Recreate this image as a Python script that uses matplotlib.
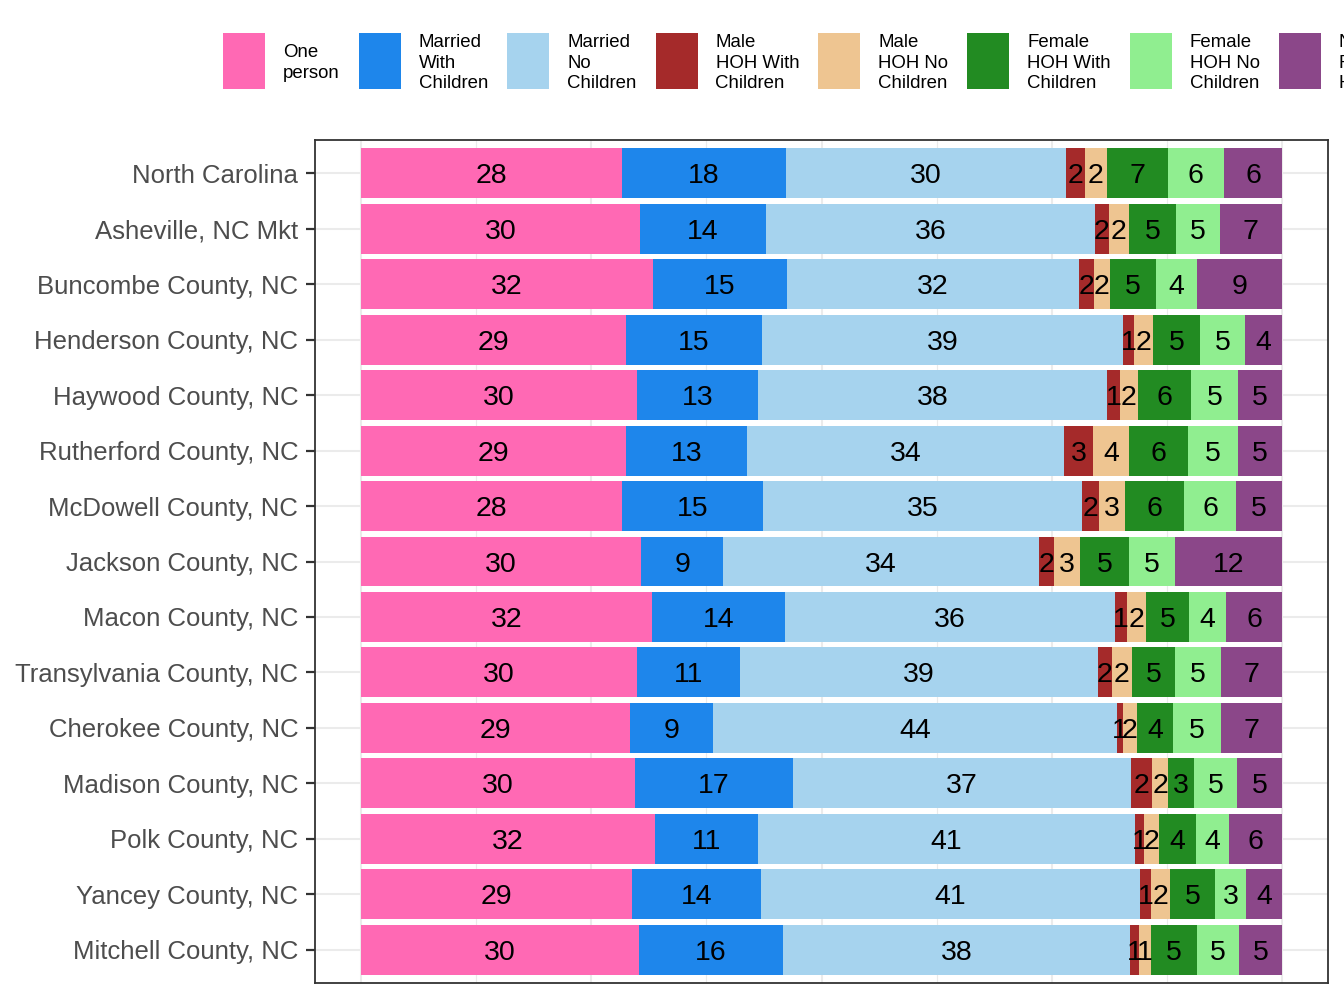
import matplotlib
matplotlib.use("Agg")
import matplotlib.pyplot as plt
from matplotlib.patches import Rectangle
import numpy as np

plt.rcParams['font.family'] = ['Liberation Sans', 'DejaVu Sans']

areas = ["North Carolina", "Asheville, NC Mkt", "Buncombe County, NC", "Henderson County, NC",
         "Haywood County, NC", "Rutherford County, NC", "McDowell County, NC", "Jackson County, NC",
         "Macon County, NC", "Transylvania County, NC", "Cherokee County, NC", "Madison County, NC",
         "Polk County, NC", "Yancey County, NC", "Mitchell County, NC"]

household_types = ["One\nperson", "Married\nWith\nChildren", "Married\nNo\nChildren",
                   "Male\nHOH With\nChildren", "Male\nHOH No\nChildren",
                   "Female\nHOH With\nChildren", "Female\nHOH No\nChildren",
                   "Non\nFamily\nHouseholds"]

colors = ["#FF69B4", "#1E86EB", "#A6D3EE", "#A52A2A", "#EEC591", "#228B22", "#90EE90", "#8B4789"]

one_person = [28.34, 30.29, 31.70, 28.77, 29.97, 28.77, 28.34, 30.45, 31.60, 29.97, 29.21, 29.75, 31.92, 29.45, 30.18]
married_with = [17.81, 13.68, 14.55, 14.77, 13.14, 13.14, 15.31, 8.85, 14.44, 11.18, 9.01, 17.16, 11.18, 13.98, 15.64]
married_no = [30.40, 35.72, 31.70, 39.20, 37.89, 34.42, 34.64, 34.31, 35.83, 38.87, 43.86, 36.70, 40.93, 41.15, 37.68]
male_with = [2.06, 1.52, 1.63, 1.19, 1.41, 3.15, 1.85, 1.63, 1.30, 1.52, 0.65, 2.28, 0.98, 1.19, 0.98]
male_no = [2.39, 2.17, 1.74, 2.06, 1.95, 3.91, 2.82, 2.82, 2.06, 2.17, 1.52, 1.74, 1.63, 2.06, 1.30]
female_with = [6.59, 5.10, 5.00, 5.10, 5.75, 6.41, 6.45, 5.32, 4.67, 4.67, 3.91, 2.82, 4.02, 4.89, 4.99]
female_no = [6.11, 4.78, 4.45, 4.89, 5.10, 5.43, 5.60, 4.99, 4.02, 4.99, 5.21, 4.67, 3.58, 3.37, 4.56]
non_family = [6.30, 6.73, 9.23, 4.02, 4.78, 4.78, 4.99, 11.62, 6.08, 6.62, 6.62, 4.89, 5.75, 3.91, 4.67]

series = [one_person, married_with, married_no, male_with, male_no, female_with, female_no, non_family]

W, H = 1344, 1008
fig = plt.figure(figsize=(W / 100, H / 100), dpi=100)
ax = fig.add_axes([315 / W, 1 - 983 / H, (1328 - 315) / W, (983 - 140) / H])

data = np.array(series, dtype=float)
y = np.arange(len(areas))
left = np.zeros(len(areas))
for vals, col in zip(data, colors):
    ax.barh(y, vals, left=left, height=0.9, color=col, zorder=2, linewidth=0)
    for yi, (l, v) in enumerate(zip(left, vals)):
        ax.text(l + v / 2, yi, f"{int(round(v))}", ha='center', va='center_baseline',
                fontsize=20.5, color='black', zorder=3)
    left = left + vals

ax.set_xlim(-5, 105)
ax.set_ylim(len(areas) - 0.4, -0.6)
ax.set_yticks(y)
ax.set_yticklabels(areas, fontsize=18.5, color='#4D4D4D')
ax.set_xticks([0, 25, 50, 75, 100])
ax.set_xticks([12.5, 37.5, 62.5, 87.5], minor=True)
ax.tick_params(axis='x', which='both', length=0, labelbottom=False)
ax.tick_params(axis='y', length=6.5, width=1.6, color='#333333', pad=5.5)
ax.grid(True, which='major', color='#EBEBEB', linewidth=1.5, zorder=0)
ax.grid(True, which='minor', axis='x', color='#EBEBEB', linewidth=0.8, zorder=0)
ax.set_axisbelow(True)
for s in ax.spines.values():
    s.set_color('#333333')
    s.set_linewidth(1.3)

# legend drawn manually across the top
renderer = fig.canvas.get_renderer()
x = 223
key_w, key_h, key_top = 42, 56, 33
for lab, col in zip(household_types, colors):
    fig.patches.append(Rectangle((x / W, 1 - (key_top + key_h) / H), key_w / W, key_h / H,
                                 transform=fig.transFigure, facecolor=col, edgecolor='none'))
    t = fig.text((x + 60) / W, 1 - (key_top + key_h / 2 + 2) / H, lab, ha='left', va='center',
                 fontsize=13.4, linespacing=1.25, color='black')
    tw = t.get_window_extent(renderer).width
    x = x + 60 + tw + 19

fig.savefig("out.png", dpi=100)
